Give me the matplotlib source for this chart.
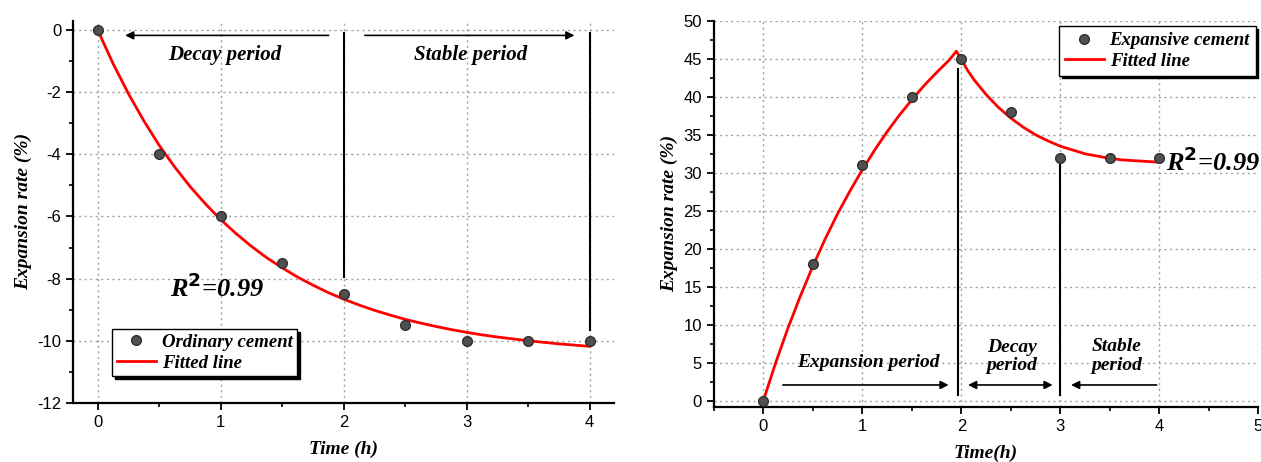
import numpy as np
import matplotlib
matplotlib.use("Agg")
from matplotlib import pyplot as plt
from matplotlib.ticker import MultipleLocator

# measured points
t = [0, 0.5, 1.0, 1.5, 2.0, 2.5, 3.0, 3.5, 4.0]
ordinary = [0, -4, -6, -7.5, -8.5, -9.5, -10, -10, -10]
expansive = [0, 18, 31, 40, 45, 38, 32, 32, 32]

# fitted curves
fit_t_ord = [0, 0.125, 0.25, 0.375, 0.5, 0.625, 0.75, 0.875, 1.0, 1.125, 1.25,
             1.375, 1.5, 1.625, 1.75, 1.875, 2.0, 2.125, 2.25, 2.375, 2.5,
             2.625, 2.75, 2.875, 3.0, 3.125, 3.25, 3.375, 3.5, 3.625, 3.75,
             3.875, 4.0]
fit_ord = [0, -1.08, -2.05, -2.92, -3.71, -4.40, -5.03, -5.59, -6.10, -6.55,
           -6.96, -7.33, -7.65, -7.95, -8.21, -8.45, -8.66, -8.85, -9.02,
           -9.17, -9.31, -9.43, -9.54, -9.64, -9.73, -9.81, -9.88, -9.94,
           -10.00, -10.05, -10.10, -10.14, -10.18]
fit_t_exp = [0, 0.125, 0.25, 0.375, 0.5, 0.625, 0.75, 0.875, 1.0, 1.125, 1.25,
             1.375, 1.5, 1.625, 1.75, 1.875, 1.95, 2.0, 2.0625, 2.125, 2.25,
             2.375, 2.5, 2.625, 2.75, 2.875, 3.0, 3.125, 3.25, 3.375, 3.5,
             3.625, 3.75, 3.875, 4.0]
fit_exp = [0, 5.0, 9.6, 13.8, 17.7, 21.3, 24.6, 27.6, 30.4, 33.0, 35.4, 37.6,
           39.6, 41.5, 43.2, 44.8, 46.0, 44.9, 43.5, 42.3, 40.3, 38.6, 37.2,
           36.0, 35.0, 34.2, 33.5, 33.0, 32.5, 32.2, 31.9, 31.7, 31.6, 31.5,
           31.4]

serif = ["Liberation Serif", "DejaVu Serif"]
plt.rcParams["font.family"] = ["Liberation Sans", "DejaVu Sans"]
plt.rcParams["axes.unicode_minus"] = False
lab = dict(family=serif, weight="bold", style="italic")

fig = plt.figure(figsize=(12.61, 4.62), dpi=100)
ax1 = fig.add_axes([0.058, 0.128, 0.429, 0.827])
ax2 = fig.add_axes([0.566, 0.119, 0.432, 0.836])

for ax in (ax1, ax2):
    for s in ("top", "right"):
        ax.spines[s].set_visible(False)
    for s in ("left", "bottom"):
        ax.spines[s].set_linewidth(1.6)
    ax.tick_params(which="major", direction="out", length=5, width=1.3, labelsize=12)
    ax.tick_params(which="minor", direction="out", length=3, width=1.2)
    ax.grid(True, which="major", linestyle=(0, (1.5, 2.5)), color="#a0a0a0", linewidth=1)
    ax.set_axisbelow(True)

legprop = dict(family=serif, weight="bold", style="italic", size=13.5)

# ---- left: ordinary cement
ax1.plot(t, ordinary, "o", color="#505050", mec="#303030", ms=7, label="Ordinary cement", zorder=3)
ax1.plot(fit_t_ord, fit_ord, color="red", lw=2, solid_joinstyle="round", label="Fitted line", zorder=2)
ax1.set_xlim(-0.2, 4.2)
ax1.set_ylim(-12, 0.3)
ax1.xaxis.set_major_locator(MultipleLocator(1))
ax1.xaxis.set_minor_locator(MultipleLocator(0.5))
ax1.yaxis.set_major_locator(MultipleLocator(2))
ax1.yaxis.set_minor_locator(MultipleLocator(1))
ax1.set_xlabel("Time (h)", fontsize=14, labelpad=8, **lab)
ax1.set_ylabel("Expansion rate (%)", fontsize=14, **lab)

ax1.plot([2, 2], [-0.1, -7.95], color="black", lw=1.5)
ax1.plot([4, 4], [-0.1, -9.65], color="black", lw=1.5)
ax1.annotate("", xy=(0.2, -0.17), xytext=(1.9, -0.17),
             arrowprops=dict(arrowstyle="-|>", color="black", lw=1.2, mutation_scale=12))
ax1.annotate("", xy=(3.9, -0.17), xytext=(2.15, -0.17),
             arrowprops=dict(arrowstyle="-|>", color="black", lw=1.2, mutation_scale=12))
ax1.text(1.03, -0.8, "Decay period", ha="center", va="center", fontsize=15, **lab)
ax1.text(3.03, -0.8, "Stable period", ha="center", va="center", fontsize=15, **lab)
ax1.text(0.97, -8.3, r"R$^{\mathbf{2}}$=0.99", ha="center", va="center", fontsize=19, **lab)

leg1 = ax1.legend(loc="lower left", bbox_to_anchor=(0.065, 0.06), frameon=True,
                  fancybox=False, shadow={"color": "black", "alpha": 1}, edgecolor="black",
                  prop=legprop, handlelength=2.1, borderpad=0.25, labelspacing=0.2,
                  handletextpad=0.3, borderaxespad=0.2)
leg1.get_frame().set_linewidth(1.0)

# ---- right: expansive cement
ax2.plot(t, expansive, "o", color="#505050", mec="#303030", ms=7, label="Expansive cement", zorder=3)
ax2.plot(fit_t_exp, fit_exp, color="red", lw=2, solid_joinstyle="round", label="Fitted line", zorder=2)
ax2.set_xlim(-0.5, 5)
ax2.set_ylim(-0.8, 50)
ax2.xaxis.set_major_locator(MultipleLocator(1))
ax2.xaxis.set_minor_locator(MultipleLocator(0.5))
ax2.yaxis.set_major_locator(MultipleLocator(5))
ax2.yaxis.set_minor_locator(MultipleLocator(2.5))
ax2.set_xlabel("Time(h)", fontsize=14, labelpad=8, **lab)
ax2.set_ylabel("Expansion rate (%)", fontsize=14, **lab)

ax2.plot([1.97, 1.97], [0.8, 43.7], color="black", lw=1.5)
ax2.plot([3, 3], [0.8, 31.2], color="black", lw=1.5)
ax2.annotate("", xy=(1.9, 2.1), xytext=(0.17, 2.1),
             arrowprops=dict(arrowstyle="-|>", color="black", lw=1.2, mutation_scale=12))
ax2.annotate("", xy=(2.04, 2.1), xytext=(2.95, 2.1),
             arrowprops=dict(arrowstyle="<|-|>", color="black", lw=1.2, mutation_scale=12))
ax2.annotate("", xy=(3.08, 2.1), xytext=(4.0, 2.1),
             arrowprops=dict(arrowstyle="-|>", color="black", lw=1.2, mutation_scale=12))
ax2.text(1.06, 5.0, "Expansion period", ha="center", va="center", fontsize=14, **lab)
ax2.text(2.51, 5.8, "Decay\nperiod", ha="center", va="center", fontsize=14,
         linespacing=1.1, **lab)
ax2.text(3.57, 5.9, "Stable\nperiod", ha="center", va="center", fontsize=14,
         linespacing=1.1, **lab)
ax2.text(4.07, 31.5, r"R$^{\mathbf{2}}$=0.99", ha="left", va="center", fontsize=19, **lab)

leg2 = ax2.legend(loc="upper right", bbox_to_anchor=(1.005, 1.0), frameon=True,
                  fancybox=False, shadow={"color": "black", "alpha": 1}, edgecolor="black",
                  prop=legprop, handlelength=2.1, borderpad=0.3, labelspacing=0.2,
                  handletextpad=0.3, borderaxespad=0.3)
leg2.get_frame().set_linewidth(1.0)

fig.savefig("out.png", dpi=100)
